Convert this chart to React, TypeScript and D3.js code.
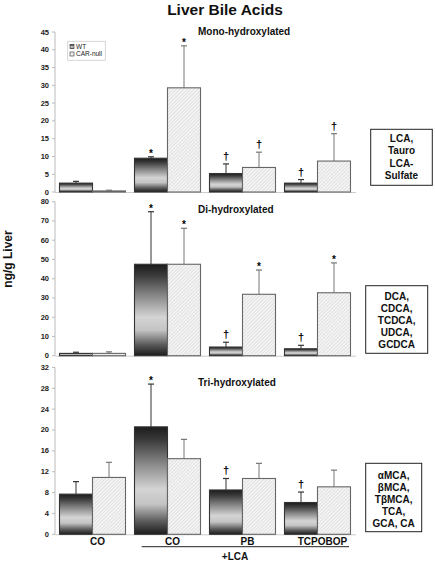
import React from "react";
import * as d3 from "d3";

const groups = ["CO", "CO+LCA", "PB", "TCPOBOP"];
const groupLabels = ["CO", "CO", "PB", "TCPOBOP"];

const monoWT = [2.5, 9.5, 5.2, 2.5];
const monoWTErr = [0.5, 0.4, 2.7, 1.0];
const monoCAR = [0.3, 29.3, 6.9, 8.7];
const monoCARErr = [0.2, 11.8, 4.3, 7.7];
const monoWTMark = ["", "*", "†", "†"];
const monoCARMark = ["", "*", "†", "†"];

const diWT = [1.2, 47.5, 4.5, 3.6];
const diWTErr = [0.6, 27.3, 2.5, 1.8];
const diCAR = [1.2, 47.5, 31.9, 32.7];
const diCARErr = [0.8, 18.7, 12.6, 15.5];
const diWTMark = ["", "*", "†", "†"];
const diCARMark = ["", "*", "*", "*"];

const triWT = [7.7, 20.6, 8.5, 6.1];
const triWTErr = [2.4, 8.2, 2.2, 2.0];
const triCAR = [10.9, 14.5, 10.7, 9.1];
const triCARErr = [2.9, 3.7, 2.9, 3.2];
const triWTMark = ["", "*", "†", "†"];
const triCARMark = ["", "", "", ""];

const monoTicks = [0, 5, 10, 15, 20, 25, 30, 35, 40, 45];
const diTicks = [0, 10, 20, 30, 40, 50, 60, 70, 80];
const triTicks = [0, 4, 8, 12, 16, 20, 24, 28, 32];

const monoBox = ["LCA,", "Tauro", "LCA-", "Sulfate"];
const diBox = ["DCA,", "CDCA,", "TCDCA,", "UDCA,", "GCDCA"];
const triBox = ["αMCA,", "βMCA,", "TβMCA,", "TCA,", "GCA, CA"];

const FONT = "'Liberation Sans', Arial, Helvetica, sans-serif";

const panels = [
  {
    title: "Mono-hydroxylated", titleY: 35, y0: 192, y1: 32, max: 45, ticks: monoTicks,
    wt: monoWT, wtErr: monoWTErr, car: monoCAR, carErr: monoCARErr, wtMark: monoWTMark, carMark: monoCARMark,
    box: monoBox, bx: 370.7, by: 129.3, bw: 61.6, bh: 56, lineStart: 142, lineStep: 12.3,
  },
  {
    title: "Di-hydroxylated", titleY: 213, y0: 355.7, y1: 201.7, max: 80, ticks: diTicks,
    wt: diWT, wtErr: diWTErr, car: diCAR, carErr: diCARErr, wtMark: diWTMark, carMark: diCARMark,
    box: diBox, bx: 365.7, by: 285.7, bw: 62, bh: 67.6, lineStart: 299.5, lineStep: 12.2,
  },
  {
    title: "Tri-hydroxylated", titleY: 386, y0: 534.3, y1: 367.4, max: 32, ticks: triTicks,
    wt: triWT, wtErr: triWTErr, car: triCAR, carErr: triCARErr, wtMark: triWTMark, carMark: triCARMark,
    box: triBox, bx: 365.7, by: 463.3, bw: 56, bh: 68.4, lineStart: 478.5, lineStep: 12.2,
  },
];

export default function App() {
  const x = d3.scaleBand<string>().domain(groups).range([55, 355]).paddingInner(0.12).paddingOuter(0.06);
  const bw = x.bandwidth() / 2;

  return (
    <svg width={435} height={562} style={{ position: "absolute", left: 0, top: 0, background: "#fff" }} fontFamily={FONT}>
      <defs>
        <linearGradient id="wtGrad" x1="0" y1="0" x2="0" y2="1">
          <stop offset="0" stopColor="#1c1c1c" />
          <stop offset="0.12" stopColor="#3a3a3a" />
          <stop offset="0.35" stopColor="#8a8a8a" />
          <stop offset="0.58" stopColor="#d4d4d4" />
          <stop offset="0.72" stopColor="#c4c4c4" />
          <stop offset="0.88" stopColor="#5a5a5a" />
          <stop offset="1" stopColor="#1c1c1c" />
        </linearGradient>
        <pattern id="hatch" width="2.5" height="2.5" patternUnits="userSpaceOnUse" patternTransform="rotate(45)">
          <rect width="2.5" height="2.5" fill="#f4f4f4" />
          <line x1="0" y1="0" x2="0" y2="2.5" stroke="#cbcbcb" strokeWidth="0.9" />
        </pattern>
      </defs>

      <text x={225} y={15} textAnchor="middle" fontSize={15.5} fontWeight="bold" fill="#111">Liver Bile Acids</text>

      <text transform="translate(12,259) rotate(-90)" textAnchor="middle" fontSize={12} fontWeight="bold" fill="#111">ng/g Liver</text>

      {panels.map((p, pi) => {
        const y = d3.scaleLinear().domain([0, p.max]).range([p.y0, p.y1]);
        return (
          <g key={pi}>
            <line x1={55} x2={55} y1={y(0)} y2={y(p.max)} stroke="#bbb" strokeWidth={1} />
            <line x1={55} x2={356} y1={y(0) + 0.5} y2={y(0) + 0.5} stroke="#ccc" strokeWidth={1} />
            {p.ticks.map((t) => (
              <g key={t}>
                <line x1={52} x2={55} y1={y(t)} y2={y(t)} stroke="#bbb" />
                <text x={49} y={y(t) + 2.5} textAnchor="end" fontSize={7.5} fontWeight="bold" fill="#222">{t}</text>
              </g>
            ))}
            <text x={198} y={p.titleY} fontSize={10} fontWeight="bold" fill="#111">{p.title}</text>

            {groups.map((g, gi) => {
              const x0 = x(g)!;
              const series = [
                { v: p.wt[gi], e: p.wtErr[gi], m: p.wtMark[gi], fill: "url(#wtGrad)", stroke: "#333", ec: "#333", xs: x0 },
                { v: p.car[gi], e: p.carErr[gi], m: p.carMark[gi], fill: "url(#hatch)", stroke: "#666", ec: "#777", xs: x0 + bw },
              ];
              return (
                <g key={g}>
                  {series.map((s, si) => {
                    const cx = s.xs + bw / 2;
                    const top = y(s.v + s.e);
                    const star = s.m === "*";
                    return (
                      <g key={si}>
                        <line x1={cx} x2={cx} y1={y(s.v)} y2={top} stroke={s.ec} strokeWidth={1} />
                        <line x1={cx - 3} x2={cx + 3} y1={top} y2={top} stroke={s.ec} strokeWidth={1.2} />
                        <rect x={s.xs} y={y(s.v)} width={bw} height={y(0) - y(s.v)} fill={s.fill} stroke={s.stroke} strokeWidth={1.1} />
                        {s.m && (
                          <text x={cx} y={top - (star ? 0 : 4)} textAnchor="middle"
                            fontSize={star ? 10 : 11} fontWeight="bold" fill="#000">{s.m}</text>
                        )}
                      </g>
                    );
                  })}
                </g>
              );
            })}

            <rect x={p.bx} y={p.by} width={p.bw} height={p.bh} fill="#fff" stroke="#222" strokeWidth={1} />
            {p.box.map((l, li) => (
              <text key={li} x={p.bx + p.bw / 2} y={p.lineStart + li * p.lineStep} textAnchor="middle" fontSize={10} fontWeight="bold" fill="#111">{l}</text>
            ))}
          </g>
        );
      })}

      {groups.map((g, gi) => (
        <text key={g} x={x(g)! + x.bandwidth() / 2 + 5} y={545} textAnchor="middle" fontSize={10} fontWeight="bold" fill="#111">{groupLabels[gi]}</text>
      ))}
      <line x1={141.7} x2={349} y1={546.7} y2={546.7} stroke="#222" strokeWidth={1} />
      <text x={235} y={559.5} textAnchor="middle" fontSize={10} fontWeight="bold" fill="#111">+LCA</text>

      <rect x={67.7} y={41.3} width={37.6} height={19} fill="#fff" stroke="#ccc" strokeWidth={0.8} />
      <rect x={70} y={44.5} width={4} height={4} fill="url(#wtGrad)" stroke="#333" strokeWidth={0.6} />
      <text x={76} y={48.7} fontSize={6.5} fill="#222">WT</text>
      <rect x={70} y={52} width={4} height={4} fill="#eee" stroke="#333" strokeWidth={0.6} />
      <text x={76} y={56.2} fontSize={6.5} fill="#222">CAR-null</text>
    </svg>
  );
}
